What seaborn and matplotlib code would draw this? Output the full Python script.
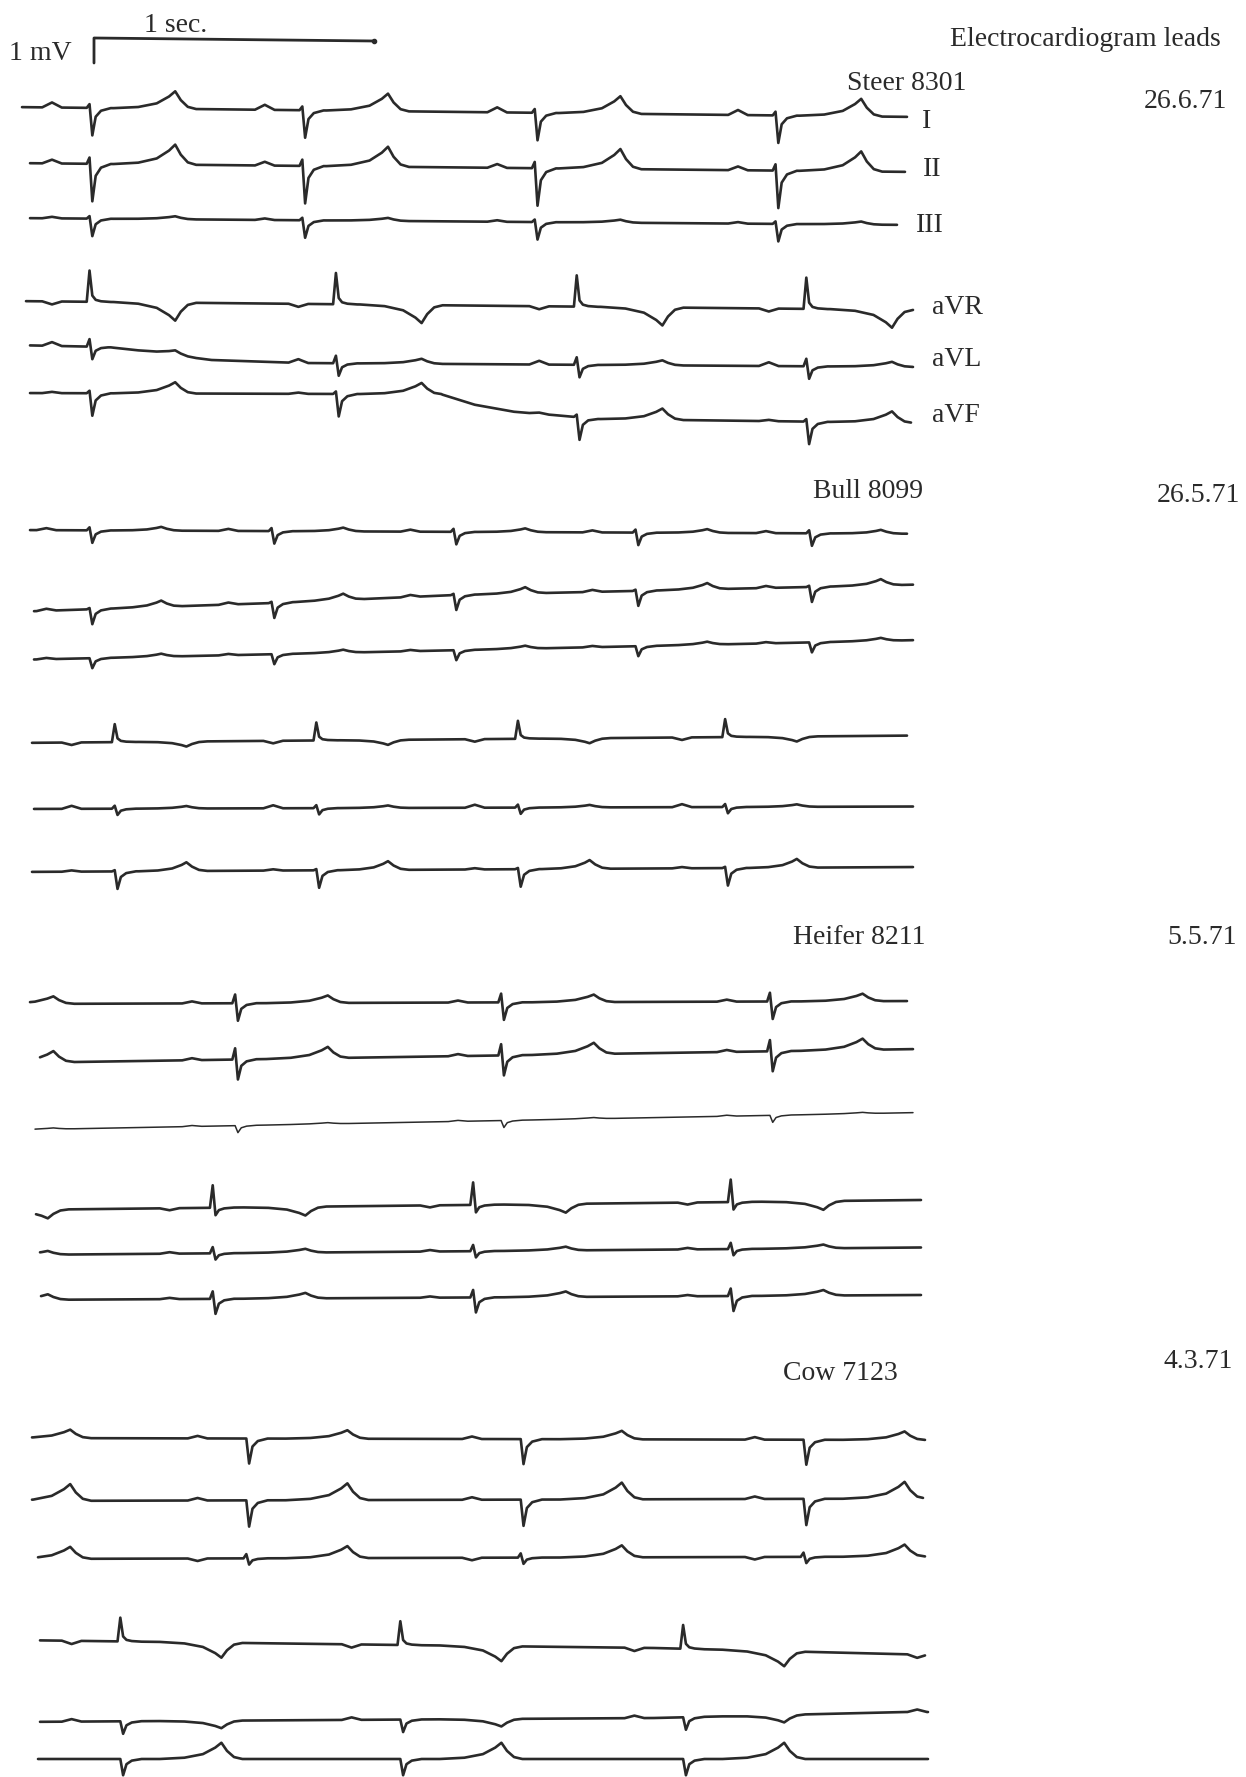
import matplotlib
matplotlib.use("Agg")
import matplotlib.pyplot as plt
import seaborn as sns
import numpy as np
import pandas as pd

# animals / recording dates
ANIMALS = ["Steer 8301", "Bull 8099", "Heifer 8211", "Cow 7123"]
DATES = ["26.6.71", "26.5.71", "5.5.71", "4.3.71"]
LEADS = ["I", "II", "III", "aVR", "aVL", "aVF"]

# QRS times in seconds (t=0 at start of the 1 sec bar)
LIMB_QRS_S = [
    [-0.01, 0.75, 1.58, 2.44],
    [-0.01, 0.64, 1.29, 1.94, 2.56],
    [-0.47, 0.51, 1.46, 2.42],
    [-0.44, 0.55, 1.53, 2.54],
]
AUG_QRS_S = [
    [-0.01, 0.87, 1.73, 2.55],
    [0.08, 0.80, 1.52, 2.26],
    [-0.49, 0.43, 1.36, 2.28],
    [0.10, 1.10, 2.11, 3.12],
]
P_LEAD_S = [0.14, 0.16, 0.16, 0.18]
T_LAG_S = [0.30, 0.25, 0.325, 0.355]

# wave amplitudes in mV, leads I II III aVR aVL aVF
P_MV = [
    [0.20, 0.15, 0.06, -0.12, 0.15, 0.05],
    [0.08, 0.08, 0.05, -0.10, 0.12, 0.05],
    [0.08, 0.08, 0.04, -0.08, 0.06, 0.05],
    [0.10, 0.10, -0.10, -0.13, 0.10, 0.00],
]
R_MV = [
    [0.15, 0.25, 0.10, 1.25, 0.30, 0.10],
    [0.12, 0.05, 0.00, 0.72, 0.12, 0.05],
    [0.35, 0.45, 0.00, 0.90, 0.25, 0.30],
    [0.00, 0.00, 0.17, 0.95, 0.00, 0.00],
]
S_MV = [
    [-1.10, -1.50, -0.70, 0.25, -0.50, -0.90],
    [-0.50, -0.60, -0.40, 0.15, -0.25, -0.70],
    [-0.70, -0.80, -0.28, -0.30, -0.25, -0.60],
    [-1.00, -1.05, -0.25, 0.20, -0.50, -0.65],
]
T_MV = [
    [0.70, 0.80, 0.12, -0.72, 0.20, 0.45],
    [0.15, 0.25, 0.12, -0.20, 0.10, 0.35],
    [0.30, 0.45, 0.05, -0.35, 0.15, 0.22],
    [0.34, 0.67, 0.48, -0.60, -0.30, 0.65],
]

# baseline wander, (time s, mV) knots per lead
BASE_KNOTS = [
    [
        [(-0.3, 0.0), (2.95, -0.40)],
        [(-0.3, 0.0), (2.95, -0.36)],
        [(-0.3, 0.0), (2.95, -0.28)],
        [(-0.3, 0.0), (2.95, -0.36)],
        [(-0.3, 0.0), (0.05, -0.08), (0.28, -0.40), (0.42, -0.60), (0.74, -0.72), (2.95, -0.88)],
        [(-0.3, 0.0), (1.24, -0.05), (1.36, -0.47), (1.50, -0.75), (1.64, -0.88), (1.80, -1.04), (2.95, -1.20)],
    ],
    [
        [(-0.3, 0.0), (2.95, -0.15)],
        [(-0.3, 0.0), (0.64, 0.36), (1.29, 0.68), (2.95, 1.10)],
        [(-0.3, 0.0), (2.95, 0.80)],
        [(-0.3, 0.0), (2.95, 0.30)],
        [(-0.3, 0.0), (2.95, 0.10)],
        [(-0.3, 0.0), (2.95, 0.20)],
    ],
    [
        [(-0.3, 0.0), (2.95, 0.12)],
        [(-0.3, 0.0), (2.95, 0.56)],
        [(-0.3, 0.0), (2.95, 0.70)],
        [(-0.3, 0.0), (2.95, 0.40)],
        [(-0.3, 0.0), (2.95, 0.30)],
        [(-0.3, 0.0), (2.95, 0.20)],
    ],
    [
        [(-0.3, 0.0), (3.0, -0.08)],
        [(-0.3, 0.0), (3.0, 0.10)],
        [(-0.3, 0.0), (3.0, 0.10)],
        [(-0.3, 0.0), (1.10, -0.20), (2.0, -0.32), (3.0, -0.60)],
        [(-0.3, 0.0), (2.0, 0.16), (2.9, 0.40), (3.0, 0.40)],
        [(-0.3, 0.0), (3.0, 0.0)],
    ],
]

# page layout (pixels)
X0 = 94
PX_PER_S = 280
PX_PER_MV = 25
ROW_Y = [
    [107, 163, 218, 301, 345, 393],
    [530, 612, 660, 743, 809, 872],
    [1004, 1063, 1130, 1210, 1255, 1300],
    [1438, 1501, 1559, 1640, 1722, 1759],
]
X_START = [
    [22, 30, 30, 26, 30, 30],
    [30, 34, 34, 32, 34, 32],
    [30, 40, 35, 36, 40, 41],
    [32, 32, 38, 40, 40, 38],
]
X_END = [
    [907, 905, 897, 913, 913, 911],
    [907, 913, 913, 907, 913, 913],
    [907, 913, 913, 921, 921, 921],
    [925, 923, 925, 925, 928, 928],
]
INK = "#2a2a2a"


def beat_knots(tq, p, r, s, t, p_lead, t_lag):
    rise = min(0.22, t_lag - 0.08)
    return [
        (tq - p_lead - 0.035, 0), (tq - p_lead, p), (tq - p_lead + 0.035, 0),
        (tq - 0.016, 0), (tq - 0.006, r), (tq + 0.004, s),
        (tq + 0.016, 0.32 * s), (tq + 0.035, 0.1 * s), (tq + 0.07, 0),
        (tq + t_lag - rise, 0), (tq + t_lag - 0.6 * rise, 0.08 * t),
        (tq + t_lag - 0.3 * rise, 0.3 * t), (tq + t_lag - 0.1 * rise, 0.7 * t),
        (tq + t_lag, t), (tq + t_lag + 0.02, 0.5 * t),
        (tq + t_lag + 0.045, 0.12 * t), (tq + t_lag + 0.075, 0),
    ]


def lead_trace(a, k):
    beats = LIMB_QRS_S[a] if k < 3 else AUG_QRS_S[a]
    knots = [(-1.0, 0.0)]
    for tq in beats:
        knots += beat_knots(tq, P_MV[a][k], R_MV[a][k], S_MV[a][k], T_MV[a][k],
                            P_LEAD_S[a], T_LAG_S[a])
    knots.append((4.0, 0.0))
    knots.sort()
    wt, wv = zip(*knots)
    bt, bv = zip(*BASE_KNOTS[a][k])
    ts = (X_START[a][k] - X0) / PX_PER_S
    te = (X_END[a][k] - X0) / PX_PER_S
    tt = np.unique(np.concatenate([wt, bt, [ts, te]]))
    tt = tt[(tt >= ts) & (tt <= te)]
    mv = np.interp(tt, wt, wv) + np.interp(tt, bt, bv)
    return pd.DataFrame({"x": X0 + tt * PX_PER_S, "y": ROW_Y[a][k] - mv * PX_PER_MV})


sns.set_theme(style="white")
plt.rcParams['font.family'] = ['Liberation Serif', 'DejaVu Serif']

fig = plt.figure(figsize=(12.46, 17.77), dpi=100)
ax = fig.add_axes([0, 0, 1, 1])
ax.set_xlim(0, 1246)
ax.set_ylim(1777, 0)
ax.axis('off')

for a in range(len(ANIMALS)):
    for k in range(len(LEADS)):
        df = lead_trace(a, k)
        lw = 1.1 if (a == 2 and k == 2) else 1.9
        sns.lineplot(data=df, x="x", y="y", ax=ax, color=INK, linewidth=lw,
                     sort=False, estimator=None, legend=False)

# calibration bar: 1 mV and 1 sec
bar_base = 63
bar = pd.DataFrame({
    "x": [X0, X0, X0 + 1 * PX_PER_S],
    "y": [bar_base, bar_base - 1 * PX_PER_MV, bar_base - 1 * PX_PER_MV + 3],
})
sns.lineplot(data=bar, x="x", y="y", ax=ax, color=INK, linewidth=2.0,
             sort=False, estimator=None, legend=False)
ax.plot([X0 + PX_PER_S], [bar_base - PX_PER_MV + 3], 'o', color=INK, ms=3)

fs = 20
ax.text(176, 25, "1 sec.", fontsize=fs, ha='center', va='center', color=INK)
ax.text(40, 54, "1 mV", fontsize=fs, ha='center', va='center', color=INK)
ax.text(1085, 40, "Electrocardiogram leads", fontsize=fs, ha='center', va='center', color=INK)

title_pos = [(907, 83), (868, 492), (859, 938), (840, 1373)]
date_pos = [(1185, 102), (1198, 495), (1202, 938), (1198, 1362)]
for a in range(len(ANIMALS)):
    ax.text(*title_pos[a], ANIMALS[a], fontsize=fs, ha='center', va='center', color=INK)
    ax.text(*date_pos[a], DATES[a], fontsize=fs, ha='center', va='center', color=INK)

# lead names only beside the first animal
roman_pos = [(927, 122), (932, 170), (930, 225)]
for k in range(3):
    ax.text(*roman_pos[k], LEADS[k], fontsize=fs, ha='center', va='center', color=INK)
aug_y = [308, 360, 415]
for k in range(3):
    ax.text(932, aug_y[k], LEADS[3 + k], fontsize=fs, ha='left', va='center', color=INK)

fig.savefig("out.png", dpi=100, facecolor="white")
